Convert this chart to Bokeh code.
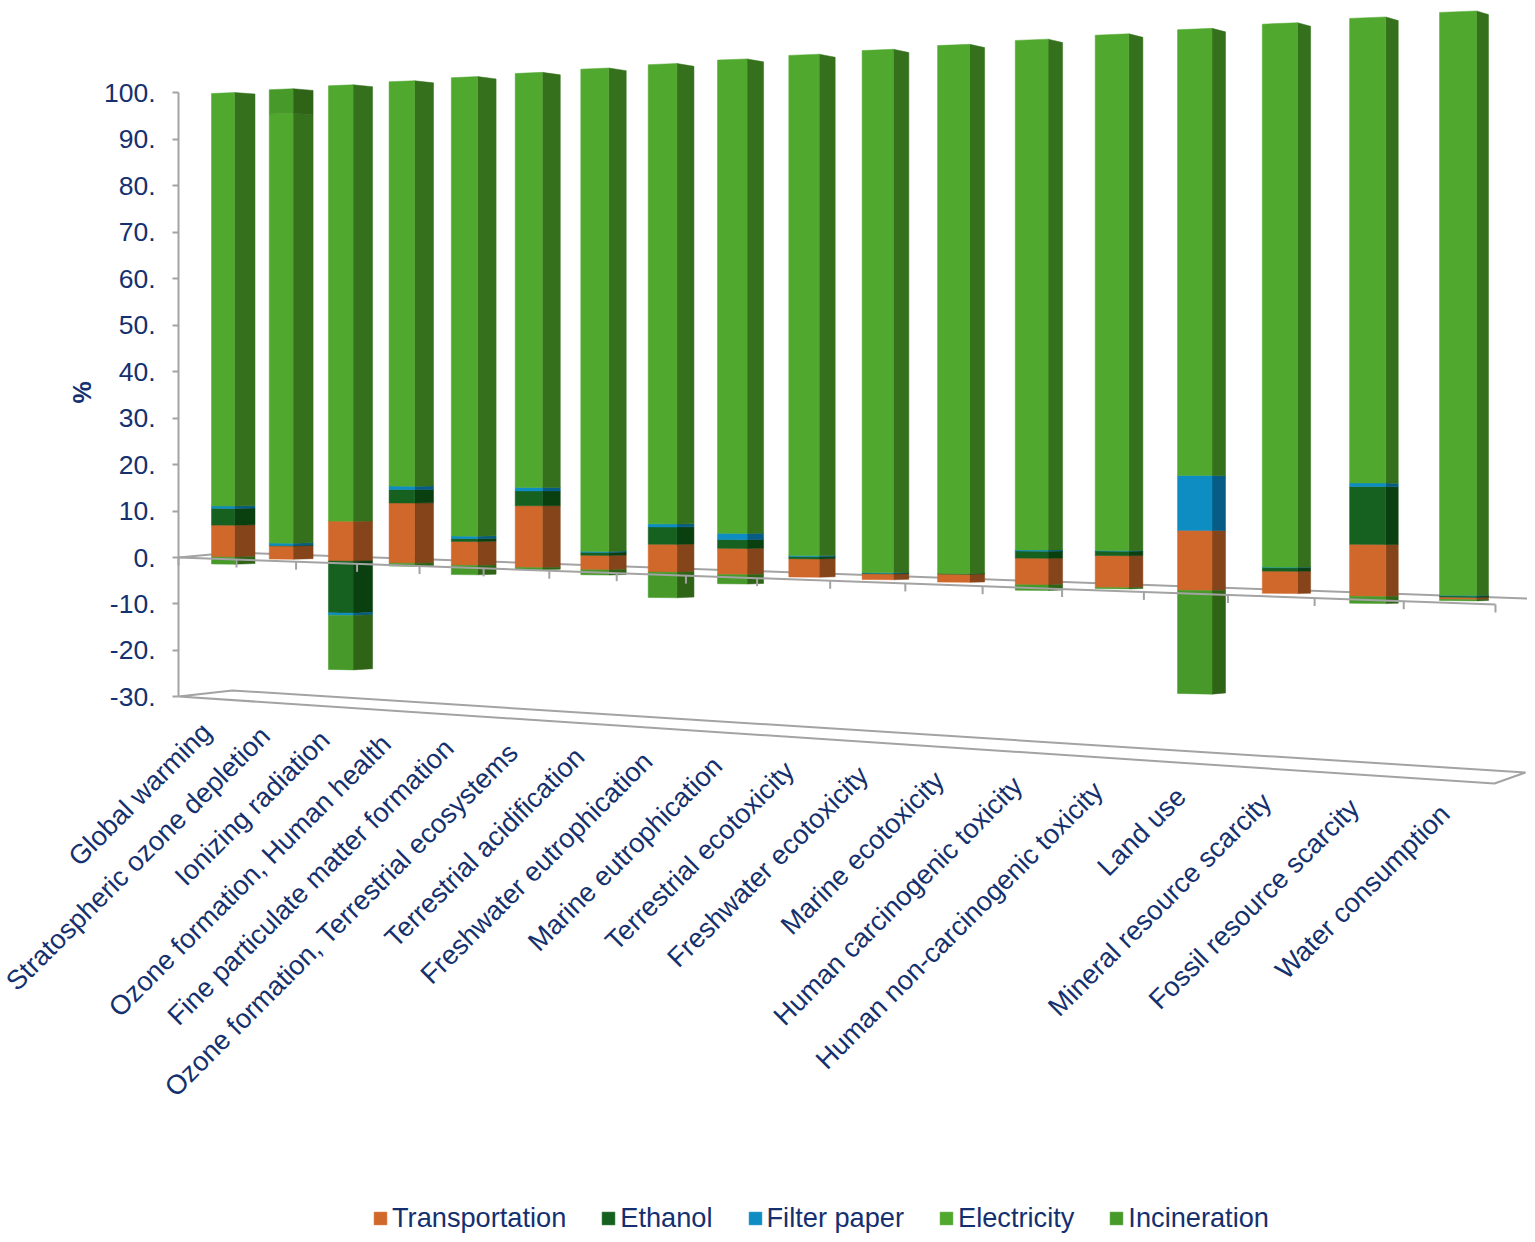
import math
from bokeh.plotting import figure
from bokeh.models import (Range1d, FixedTicker, LinearAxis, Legend, LegendItem)
from bokeh.core.properties import value
from bokeh.embed import file_html
from bokeh.resources import INLINE

categories = ["Global warming", "Stratospheric ozone depletion", "Ionizing radiation",
              "Ozone formation, Human health", "Fine particulate matter formation",
              "Ozone formation, Terrestrial ecosystems", "Terrestrial acidification",
              "Freshwater eutrophication", "Marine eutrophication", "Terrestrial ecotoxicity",
              "Freshwater ecotoxicity", "Marine ecotoxicity", "Human carcinogenic toxicity",
              "Human non-carcinogenic toxicity", "Land use", "Mineral resource scarcity",
              "Fossil resource scarcity", "Water consumption"]
transportation = [6.9, 2.8, 8.4, 12.5, 4.9, 12.5, 2.9, 5.5, 5.1, 3.5, 1.1, 1.5, 4.9, 5.8, 10.7, 3.9, 9.0, 0.4]
ethanol = [3.6, 0.1, -10.9, 2.8, 0.6, 3.0, 0.6, 3.4, 1.7, 0.4, 0.1, 0.1, 1.3, 0.8, 0.0, 0.6, 10.0, 0.2]
filter_paper = [0.5, 0.5, -0.5, 0.7, 0.5, 0.7, 0.2, 0.6, 1.2, 0.2, 0.1, 0.0, 0.2, 0.1, 9.8, 0.1, 0.6, 0.1]
electricity = [89.0, 91.4, 91.6, 84.0, 94.0, 83.8, 96.3, 90.5, 92.0, 95.9, 98.7, 98.4, 93.6, 93.3, 79.5, 95.4, 80.4, 99.3]
incineration = [-1.5, 5.2, -11.4, -0.6, -1.9, -0.4, -1.0, -5.0, -1.8, 0.0, 0.0, 0.0, -1.0, -0.2, -18.4, 0.0, -1.2, -0.2]
tick_values = [-30, -20, -10, 0, 10, 20, 30, 40, 50, 60, 70, 80, 90, 100]

series = [("Transportation", transportation, "#D0672B", "#86441A"),
          ("Ethanol", ethanol, "#166020", "#0A3F10"),
          ("Filter paper", filter_paper, "#0E8DC2", "#065C84"),
          ("Electricity", electricity, "#50A82F", "#35701C"),
          ("Incineration", incineration, "#479A2A", "#2F6316")]

NAVY = "#14306E"
GREY = "#A3A3A3"
FONT = "Liberation Sans"
PX_PER_UNIT = 4.646
ZERO_PX = 557.0
W, H = 1527, 1234


def uy(px):
    """image pixel row -> % axis units"""
    return (ZERO_PX - px) / PX_PER_UNIT


def bar_left(i):
    return 211 + 57.08 * i + 0.665 * i ** 2 + 0.01333 * i ** 3


def bar_w(i):
    return 23 + 0.82 * i


def bar_d(i):
    return 20.5 - 0.5 * i


def row(i, v):
    """image pixel row of value v on the front-left edge of bar i (perspective)"""
    dx = bar_left(i) - 211
    return 556.5 + 0.0345 * dx - v * (4.635 + 0.001005 * dx)


def front_poly(i, a, b):
    x0, w = bar_left(i), bar_w(i)
    sl = lambda v: (0.01 - 0.0005 * v) * w
    return ([x0, x0 + w, x0 + w, x0],
            [uy(row(i, a)), uy(row(i, a) + sl(a)), uy(row(i, b) + sl(b)), uy(row(i, b))])


def side_poly(i, a, b):
    x0, w, d = bar_left(i), bar_w(i), bar_d(i)
    fr = lambda v: (0.01 - 0.0005 * v) * w
    sl = lambda v: ((v / 100) * (0.1 + 0.23 * i / 17) - 0.03) * d
    return ([x0 + w, x0 + w + d, x0 + w + d, x0 + w],
            [uy(row(i, a) + fr(a)), uy(row(i, a) + fr(a) + sl(a)),
             uy(row(i, b) + fr(b) + sl(b)), uy(row(i, b) + fr(b))])


p = figure(width=W, height=H, output_backend="svg", toolbar_location=None,
           x_range=Range1d(0, W), y_range=Range1d(uy(H), uy(0)),
           x_axis_location=None, y_axis_location=None,
           min_border_left=0, min_border_right=0, min_border_top=0, min_border_bottom=0)
p.xgrid.visible = False
p.ygrid.visible = False
p.outline_line_color = None
p.background_fill_color = None
p.border_fill_color = "white"

# floor and back zero line
p.line([178, 232, 1525, 1494, 178], [uy(696), uy(690), uy(772), uy(783), uy(696)],
       line_color=GREY, line_width=2)
p.line([178, 232, 1527], [uy(557), uy(552), uy(598)], line_color=GREY, line_width=2)

# stacked bars
pos = [0.0] * len(categories)
neg = [0.0] * len(categories)
items = []
for name, vals, front, side in series:
    fx, fy, sx, sy = [], [], [], []
    for i, v in enumerate(vals):
        if v == 0:
            continue
        if v > 0:
            a, b = pos[i], pos[i] + v
            pos[i] = b
        else:
            a, b = neg[i], neg[i] + v
            neg[i] = b
        xs, ys = front_poly(i, a, b)
        fx.append(xs); fy.append(ys)
        xs, ys = side_poly(i, a, b)
        sx.append(xs); sy.append(ys)
    p.patches(sx, sy, fill_color=side, line_color=side, line_width=0.5)
    r = p.patches(fx, fy, fill_color=front, line_color=front, line_width=0.5)
    items.append(LegendItem(label=name, renderers=[r]))

# front zero line with its ticks
tick_x = [178] + [bar_left(i) + bar_w(i) + 2 + i for i in range(len(categories))]
zero_front = lambda x: 557 + (x - 178) * 47 / 1317
p.line([178, 1495], [uy(557), uy(604)], line_color=GREY, line_width=2)
p.segment(tick_x, [uy(zero_front(x)) for x in tick_x], tick_x,
          [uy(zero_front(x) + 8) for x in tick_x], line_color=GREY, line_width=2)

# value axis
ya = LinearAxis(ticker=FixedTicker(ticks=tick_values), bounds=(-30, 100), fixed_location=178,
                major_label_overrides={t: f"{t}." for t in tick_values},
                major_label_text_font=FONT, major_label_text_font_size="26.5px",
                major_label_text_color=NAVY, major_label_standoff=17,
                major_tick_in=0, major_tick_out=6, minor_tick_line_color=None,
                axis_line_color=GREY, axis_line_width=2,
                major_tick_line_color=GREY, major_tick_line_width=2)
p.add_layout(ya, "left")

# axis title
p.text([81], [uy(392)], text=["%"], angle=math.pi / 2, text_align="center", text_baseline="middle",
       text_font=value(FONT), text_font_size="25px", text_font_style="bold", text_color=NAVY)

# category labels follow the slanted front edge of the floor
label_x = [bar_left(i) + 3 + 0.6 * i - 8 for i in range(len(categories))]
floor_front = lambda x: 696 + (x - 178) * 87 / 1316
label_y = [uy(floor_front(x) + 29) for x in label_x]
p.text(label_x, label_y, text=categories, angle=math.pi / 4, text_align="right",
       text_baseline="middle", text_font=value(FONT), text_font_size="27.2px", text_color=NAVY)

legend = Legend(items=items, orientation="horizontal", location=(372, 0),
                glyph_width=16, glyph_height=16, label_standoff=4, spacing=34,
                label_text_font=FONT, label_text_font_size="27.2px", label_text_color=NAVY,
                background_fill_alpha=0, border_line_color=None, padding=0, margin=0)
p.add_layout(legend)

open("out.html", "w").write(file_html(p, INLINE))
